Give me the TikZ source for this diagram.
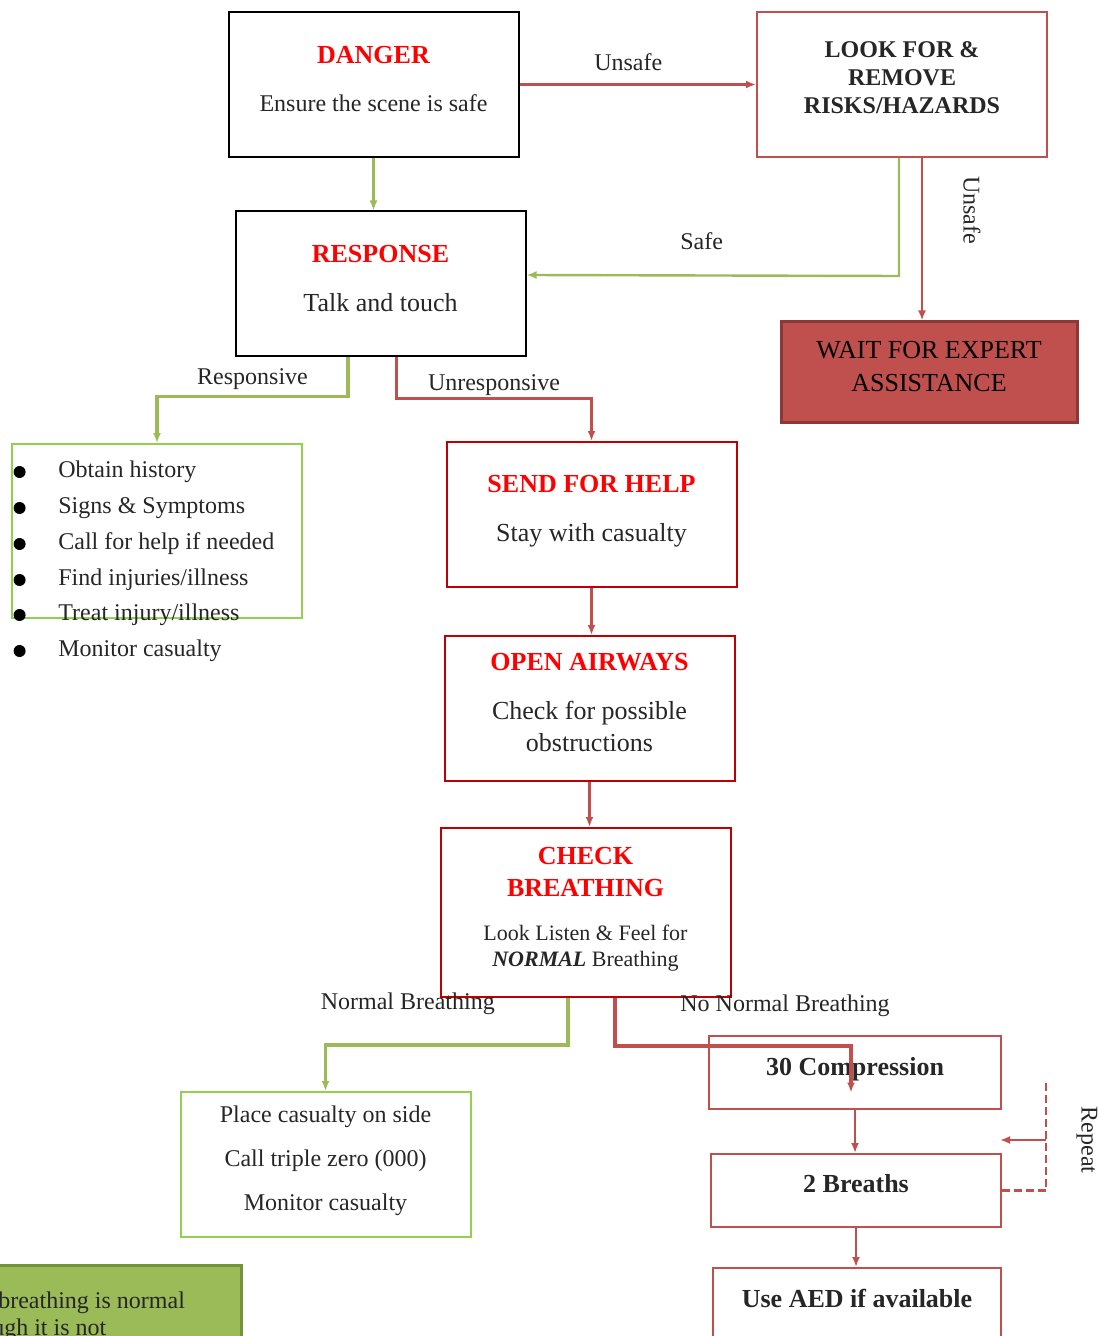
\documentclass[tikz,border=0pt]{standalone}
\usepackage{fontspec}
\setmainfont{Liberation Serif}
\usepackage{tikz}
\usetikzlibrary{positioning, arrows.meta}

\definecolor{titlered}{HTML}{FF0000}
\definecolor{boxred}{HTML}{C00000}
\definecolor{linkred}{HTML}{C0504D}
\definecolor{darkred}{HTML}{8C3836}
\definecolor{linkgreen}{HTML}{9BBB59}
\definecolor{boxgreen}{HTML}{92D050}
\definecolor{darkgreen}{HTML}{76923C}
\definecolor{textgray}{HTML}{262626}

\newcommand{\boxtitle}[1]{{\color{titlered}\bfseries\fontsize{13}{15}\selectfont #1}}

\tikzset{
    box/.style={draw, line width=1pt, minimum width=145pt, minimum height=72.5pt, align=center, text depth=6pt, text=textgray, font=\fontsize{12}{14}\selectfont},
    blackbox/.style={box, draw=black},
    redbox/.style={box, draw=boxred},
    pinkbox/.style={box, draw=linkred},
    greenbox/.style={box, draw=boxgreen},
    stepbox/.style={pinkbox, minimum height=36.5pt, text depth=6.5pt, font=\bfseries\fontsize{13}{15}\selectfont},
    greenline/.style={draw=linkgreen, line width=1.2pt, -{Latex[length=5pt,width=4pt]}},
    redline/.style={draw=linkred, line width=1.2pt, -{Latex[length=5pt,width=4pt]}},
    edgelabel/.style={text=textgray, font=\fontsize{12}{14}\selectfont},
    listitem/.style={anchor=west, inner sep=0pt, text=textgray, font=\fontsize{12}{13}\selectfont,
        label={[circle, fill=black, inner sep=0pt, minimum size=6pt, label distance=16pt]left:{}}}
}

\begin{document}
\begin{tikzpicture}[x=0.5pt, y=-0.5pt]
                    \useasboundingbox (0,0) rectangle (1098,1336);
                    \clip (0,0) rectangle (1098,1336);

                    % Nodes
                    \node[blackbox] (danger) at (373.5,84.5) {\boxtitle{DANGER}\\[10pt]Ensure the scene is safe};
                    \node[pinkbox, text depth=7pt, font=\bfseries\fontsize{12}{14}\selectfont] (look) at (902,84.5) {LOOK FOR \&\\REMOVE\\RISKS/HAZARDS};
                    \node[blackbox, font=\fontsize{13}{15}\selectfont] (response) at (380.5,284) {\boxtitle{RESPONSE}\\[9.5pt]Talk and touch};
                    \node[draw=darkred, line width=1.5pt, fill=linkred, minimum width=148pt, minimum height=50pt, align=center, text depth=6pt, text=black, font=\fontsize{13}{16.5}\selectfont] (wait) at (929,372) {WAIT FOR EXPERT\\ASSISTANCE};
                    \node[greenbox, minimum height=87pt] (checks) at (157,531) {};
                    \node[redbox, font=\fontsize{13}{15}\selectfont] (send) at (591.5,514.5) {\boxtitle{SEND FOR HELP}\\[9.5pt]Stay with casualty};
                    \node[redbox, font=\fontsize{13}{15}\selectfont] (open) at (589.5,708.5) {\boxtitle{OPEN AIRWAYS}\\[9.5pt]Check for possible\\[1pt]obstructions};
                    \node[redbox, minimum height=84.5pt, font=\fontsize{11}{13}\selectfont] (check) at (585.5,912.5) {\boxtitle{CHECK}\\[3pt]\boxtitle{BREATHING}\\[9pt]Look Listen \& Feel for\\[0pt]\textbf{\textit{NORMAL}} Breathing};
                    \node[greenbox, text depth=6.5pt] (place) at (325.5,1164.5) {Place casualty on side\\[8pt]Call triple zero (000)\\[8pt]Monitor casualty};
                    \node[stepbox, minimum width=146pt] (comp) at (855,1072.5) {30 Compression};
                    \node[stepbox, text depth=7.2pt] (breaths) at (856,1190.5) {2 Breaths};
                    \node[stepbox, minimum width=144pt] (aed) at (857,1304.5) {Use AED if available};
                    \node[draw=darkgreen, line width=1.5pt, fill=linkgreen, minimum width=237.5pt, minimum height=51pt, align=center, text=textgray, font=\fontsize{12}{13.5}\selectfont] (note) at (4,1316) {If unsure whether breathing is normal\\act as though it is not};

                    % List of checks
                    \node[listitem] (item1) at (58,472) {Obtain history};
                    \node[listitem] (item2) at (58,508) {Signs \& Symptoms};
                    \node[listitem] (item3) at (58,544) {Call for help if needed};
                    \node[listitem] (item4) at (58,580) {Find injuries/illness};
                    \node[listitem] (item5) at (58,615) {Treat injury/illness};
                    \node[listitem] (item6) at (58,651) {Monitor casualty};

                    % Loop points
                    \coordinate (looptop) at (1046,1080);
                    \coordinate (loopjoin) at (1046,1140);
                    \coordinate (looptip) at (1000,1140);

                    % Edges
                    % danger to look
                    \draw[redline] (danger.east) -- node[edgelabel, pos=0.46, above=3pt] {Unsafe} (look.west);

                    % danger to response
                    \draw[greenline] (danger.south) -- (danger.south |- response.north);

                    % look to response
                    \draw[greenline] ([xshift=-1.5pt]look.south) -- ++(0,118) -- node[edgelabel, pos=0.53, above=9pt] {Safe} (response.east |- 0,275);

                    % look to wait
                    \draw[redline] ([xshift=10pt]look.south) -- ([xshift=10pt]look.south |- wait.north);
                    \node[edgelabel, rotate=-90] (unsafe) at (972,210) {Unsafe};

                    % response to checks
                    \draw[greenline, line width=1.8pt] ([xshift=-16.25pt]response.south) -- ++(0,39) -| node[edgelabel, pos=0.25, above=-1pt] {Responsive} (checks.north);

                    % response to send
                    \draw[redline, line width=1.8pt] ([xshift=8pt]response.south) -- ++(0,41) -| node[edgelabel, pos=0.25, above=-3pt] {Unresponsive} (send.north);

                    % send to open
                    \draw[redline] (send.south) -- (send.south |- open.north);

                    % open to check
                    \draw[redline] (open.south) -- (open.south |- check.north);

                    % check to place
                    \draw[greenline, line width=1.8pt] ([xshift=-8.75pt]check.south) -- ++(0,47) -| node[edgelabel, pos=0.25, above=11pt, xshift=-19.5pt] {Normal Breathing} (place.north);

                    % check to comp
                    \draw[redline, line width=1.8pt] ([xshift=14.75pt]check.south) -- ++(0,48) -| node[edgelabel, pos=0.25, above=10.5pt, xshift=26pt] {No Normal Breathing} ([xshift=-2pt, yshift=-10pt]comp.center);

                    % comp to breaths
                    \draw[redline] (comp.south) -- (comp.south |- breaths.north);

                    % breaths to aed
                    \draw[redline] (breaths.south) -- (breaths.south |- aed.north);

                    % repeat loop
                    \draw[linkred, line width=1.2pt, dash pattern=on 4pt off 2pt] (breaths.east) -| (looptop);
                    \draw[redline] (loopjoin) -- (looptip);
                    \node[edgelabel, rotate=-90] (repeat) at (1087,1140) {Repeat};

                \end{tikzpicture}
\end{document}
